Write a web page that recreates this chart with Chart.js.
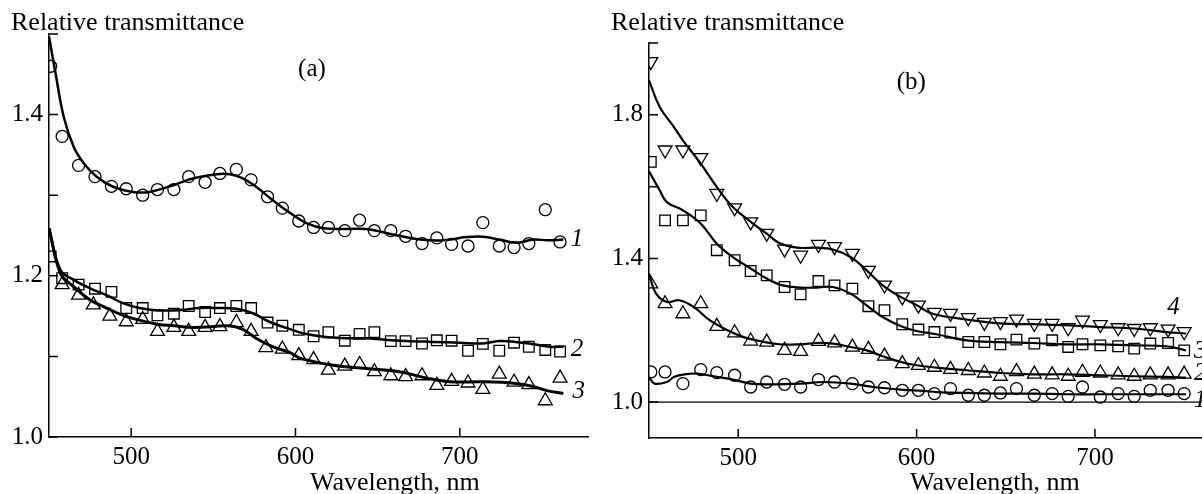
<!DOCTYPE html>
<html>
<head>
<meta charset="utf-8">
<title>Relative transmittance</title>
<script src="https://cdn.jsdelivr.net/npm/chart.js@4.4.0/dist/chart.umd.min.js"></script>
<style>
  html, body { margin: 0; padding: 0; background: #fff; }
  #wrap { position: relative; width: 1202px; height: 494px; overflow: hidden; }
  #chartA { position: absolute; left: 0; top: 0; }
  #chartB { position: absolute; left: 600px; top: 0; }
</style>
</head>
<body>
<div id="wrap">
  <canvas id="chartA" width="600" height="494"></canvas>
  <canvas id="chartB" width="602" height="494"></canvas>
</div>
<script>
const FONT = "'Liberation Serif', 'Times New Roman', serif";

// ticks
const xTicks = [500, 600, 700];
const yTicksA = [1.0, 1.1, 1.2, 1.3, 1.4, 1.5];
const yLabelsA = [1.0, 1.2, 1.4];
const yTicksB = [1.0, 1.4, 1.6, 1.8, 2.0];
const yLabelsB = [1.0, 1.4, 1.8];

// panel (a) - measured points
const wlA = [451, 458, 468, 478, 488, 497, 507, 516, 526, 535, 545, 554, 564, 573, 583, 592, 602, 611, 620, 630, 639, 648, 658, 667, 677, 686, 695, 705, 714, 724, 733, 742, 752, 761];
const circlesA = [1.460, 1.373, 1.337, 1.323, 1.311, 1.308, 1.300, 1.307, 1.307, 1.323, 1.316, 1.327, 1.332, 1.319, 1.298, 1.284, 1.268, 1.260, 1.260, 1.256, 1.269, 1.256, 1.256, 1.249, 1.240, 1.247, 1.239, 1.237, 1.266, 1.237, 1.235, 1.240, 1.282, 1.242];
const squaresA = [1.224, 1.197, 1.189, 1.184, 1.180, 1.160, 1.160, 1.151, 1.153, 1.1625, 1.155, 1.160, 1.1625, 1.160, 1.142, 1.138, 1.133, 1.125, 1.130, 1.1195, 1.128, 1.130, 1.119, 1.119, 1.116, 1.120, 1.1195, 1.107, 1.1155, 1.107, 1.117, 1.112, 1.108, 1.106];
const wlTriA = [458, 468, 477, 487, 497, 507, 516, 526, 535, 545, 554, 564, 573, 582, 592, 602, 611, 620, 630, 639, 648, 658, 667, 677, 686, 695, 705, 714, 724, 733, 742, 752, 761];
const trianglesA = [1.189, 1.176, 1.164, 1.150, 1.143, 1.146, 1.131, 1.136, 1.131, 1.136, 1.137, 1.142, 1.131, 1.111, 1.109, 1.101, 1.096, 1.083, 1.088, 1.090, 1.081, 1.076, 1.075, 1.076, 1.064, 1.069, 1.067, 1.059, 1.078, 1.068, 1.065, 1.045, 1.073];

// panel (a) - fitted curves
const wlFit1A = [450, 454, 459, 465, 471, 479, 489, 501, 511, 526, 538, 552, 560, 568, 576, 586, 597, 607, 617, 630, 643, 660, 676, 690, 704, 714, 724, 734, 745, 753, 763];
const fit1A = [1.497, 1.451, 1.397, 1.360, 1.340, 1.323, 1.3105, 1.304, 1.304, 1.3127, 1.321, 1.326, 1.326, 1.321, 1.3105, 1.294, 1.2775, 1.265, 1.259, 1.258, 1.258, 1.251, 1.245, 1.244, 1.248, 1.2485, 1.245, 1.241, 1.245, 1.244, 1.245];
const wlFit2A = [450, 457, 465, 475, 485, 495, 505, 516, 530, 542, 554, 564, 574, 584, 595, 605, 617, 633, 643, 653, 664, 684, 700, 714, 724, 734, 744, 755, 763];
const fit2A = [1.259, 1.207, 1.195, 1.1845, 1.176, 1.166, 1.160, 1.157, 1.1575, 1.160, 1.160, 1.159, 1.1535, 1.143, 1.135, 1.1285, 1.1245, 1.1225, 1.1225, 1.121, 1.1195, 1.118, 1.117, 1.116, 1.119, 1.118, 1.1155, 1.112, 1.112];
const wlFit3A = [450, 457, 465, 475, 485, 495, 505, 516, 526, 538, 550, 560, 568, 576, 586, 597, 603, 623, 643, 663, 680, 694, 714, 734, 744, 753, 763];
const fit3A = [1.259, 1.203, 1.1865, 1.170, 1.160, 1.151, 1.145, 1.140, 1.138, 1.136, 1.137, 1.138, 1.1335, 1.1225, 1.112, 1.1045, 1.0975, 1.089, 1.085, 1.081, 1.073, 1.0685, 1.0685, 1.0665, 1.063, 1.0575, 1.054];

// panel (b) - measured points
const wlB = [451, 459, 469, 479, 488, 498, 507, 516, 526, 535, 545, 554, 564, 573, 582, 592, 601, 610, 619, 629, 638, 647, 656, 666, 676, 685, 693, 703, 713, 722, 731, 741, 750];
const circlesB = [1.084, 1.084, 1.0515, 1.0905, 1.082, 1.0747, 1.042, 1.056, 1.0496, 1.042, 1.0627, 1.056, 1.0515, 1.042, 1.040, 1.0329, 1.0329, 1.0237, 1.0376, 1.019, 1.019, 1.0254, 1.0376, 1.019, 1.0237, 1.016, 1.042, 1.0142, 1.0237, 1.016, 1.0329, 1.0329, 1.0237];
const trianglesB = [1.329, 1.274, 1.246, 1.274, 1.211, 1.193, 1.170, 1.167, 1.144, 1.141, 1.169, 1.165, 1.153, 1.147, 1.128, 1.107, 1.102, 1.097, 1.091, 1.088, 1.081, 1.072, 1.085, 1.078, 1.076, 1.072, 1.083, 1.081, 1.076, 1.072, 1.076, 1.076, 1.078];
const squaresB = [1.669, 1.506, 1.506, 1.520, 1.423, 1.395, 1.365, 1.353, 1.3205, 1.300, 1.337, 1.325, 1.316, 1.267, 1.2557, 1.2167, 1.202, 1.195, 1.1936, 1.1674, 1.1674, 1.161, 1.174, 1.163, 1.172, 1.1535, 1.161, 1.158, 1.1555, 1.149, 1.163, 1.1645, 1.144];
const invTrianglesB = [1.948, 1.702, 1.702, 1.681, 1.581, 1.541, 1.502, 1.470, 1.426, 1.409, 1.439, 1.433, 1.414, 1.367, 1.326, 1.293, 1.270, 1.250, 1.247, 1.235, 1.222, 1.224, 1.231, 1.219, 1.219, 1.207, 1.228, 1.216, 1.207, 1.205, 1.207, 1.203, 1.196];

// panel (b) - fitted curves
const wlFit1B = [450, 453, 460, 464, 469, 477, 488, 497, 507, 520, 535, 548, 563, 576, 591, 604, 611, 628, 647, 665, 684, 703, 722, 740, 751];
const fit1B = [1.070, 1.0515, 1.056, 1.070, 1.0766, 1.0794, 1.070, 1.0627, 1.0515, 1.0496, 1.0515, 1.056, 1.0515, 1.042, 1.0348, 1.031, 1.028, 1.0254, 1.0237, 1.0237, 1.0218, 1.0218, 1.0218, 1.0218, 1.0218];
const wlFit2B = [450, 454, 460, 467, 475, 484, 494, 503, 512, 523, 535, 544, 553, 563, 572, 581, 591, 600, 611, 628, 647, 665, 684, 703, 722, 740, 751];
const fit2B = [1.358, 1.302, 1.279, 1.2836, 1.265, 1.228, 1.200, 1.181, 1.170, 1.161, 1.161, 1.1646, 1.163, 1.1535, 1.144, 1.1276, 1.112, 1.1025, 1.096, 1.0886, 1.081, 1.0774, 1.0774, 1.0747, 1.072, 1.070, 1.068];
const wlFit3B = [450, 456, 460, 469, 479, 488, 497, 507, 516, 525, 535, 544, 553, 563, 572, 581, 591, 600, 611, 628, 647, 665, 684, 703, 722, 740, 751];
const fit3B = [1.643, 1.590, 1.557, 1.534, 1.497, 1.441, 1.404, 1.372, 1.344, 1.325, 1.319, 1.319, 1.3206, 1.302, 1.2696, 1.237, 1.212, 1.198, 1.189, 1.172, 1.167, 1.1645, 1.161, 1.161, 1.158, 1.1555, 1.144];
const wlFit4B = [450, 456, 464, 469, 479, 488, 497, 507, 516, 523, 533, 544, 553, 563, 572, 581, 591, 600, 609, 628, 647, 665, 684, 703, 722, 740, 751];
const fit4B = [1.896, 1.822, 1.766, 1.729, 1.664, 1.599, 1.543, 1.502, 1.469, 1.443, 1.430, 1.430, 1.425, 1.404, 1.367, 1.325, 1.293, 1.270, 1.246, 1.230, 1.219, 1.217, 1.214, 1.209, 1.205, 1.195, 1.191];

const unityX = [450, 760];
const unityY = [1.0, 1.0];

const pts = (xs, ys) => xs.map((x, i) => ({ x: x, y: ys[i] }));
const edgeClip = { left: 0, top: 12, right: 12, bottom: 12 };

const markers = (xs, ys, style, radius, rotation) => ({
  data: pts(xs, ys),
  showLine: false,
  pointStyle: style,
  pointRadius: radius,
  pointRotation: rotation || 0,
  pointBorderWidth: 1.3,
  pointBorderColor: '#000',
  pointBackgroundColor: 'rgba(0,0,0,0)',
  clip: edgeClip,
});

const fitLine = (xs, ys, width, tension) => ({
  data: pts(xs, ys),
  showLine: true,
  pointRadius: 0,
  borderColor: '#000',
  borderWidth: width,
  tension: tension === undefined ? 0.4 : tension,
  clip: edgeClip,
});

// ticks pointing into the plot area
const inwardTicks = {
  id: 'inwardTicks',
  afterDatasetsDraw(chart) {
    const { ctx, chartArea: area, scales: { x, y } } = chart;
    ctx.save();
    ctx.strokeStyle = '#000';
    ctx.lineWidth = 1.5;
    ctx.beginPath();
    x.ticks.forEach(t => {
      const px = x.getPixelForValue(t.value);
      ctx.moveTo(px, area.bottom);
      ctx.lineTo(px, area.bottom - 9);
    });
    y.ticks.forEach(t => {
      const py = y.getPixelForValue(t.value);
      ctx.moveTo(area.left, py);
      ctx.lineTo(area.left + 9, py);
    });
    ctx.stroke();
    ctx.restore();
  }
};

// axis titles, panel letter and curve numbers
const panelText = {
  id: 'panelText',
  afterDraw(chart, args, o) {
    const { ctx, scales: { x, y } } = chart;
    ctx.save();
    ctx.fillStyle = '#000';
    ctx.font = '26px ' + FONT;
    ctx.textAlign = 'left';
    ctx.textBaseline = 'alphabetic';
    ctx.fillText('Relative transmittance', 11, 29.5);
    ctx.fillText('Wavelength, nm', 310, 490);
    ctx.font = '25px ' + FONT;
    ctx.textAlign = 'center';
    ctx.textBaseline = 'middle';
    ctx.fillText(o.letter.text, x.getPixelForValue(o.letter.x), y.getPixelForValue(o.letter.y));
    ctx.font = 'italic 25px ' + FONT;
    o.curves.forEach(c => {
      ctx.textAlign = c.align || 'left';
      ctx.fillText(c.text, x.getPixelForValue(c.x), y.getPixelForValue(c.y));
    });
    ctx.restore();
  }
};

function buildOptions(p) {
  const tickFont = { family: FONT, size: 25 };
  return {
    responsive: false,
    animation: false,
    events: [],
    layout: { autoPadding: false, padding: { left: 0, top: p.top, right: p.right, bottom: 0 } },
    plugins: {
      legend: { display: false },
      tooltip: { enabled: false },
      panelText: p.text,
    },
    scales: {
      x: {
        type: 'linear',
        min: p.xMin,
        max: p.xMax,
        grid: { display: false, drawTicks: false },
        border: { display: true, color: '#000', width: 1.5 },
        ticks: { autoSkip: false, maxRotation: 0, padding: 5, color: '#000', font: tickFont },
        afterBuildTicks: s => { s.ticks = xTicks.map(v => ({ value: v })); },
        afterFit: s => { s.height = p.xAxisHeight; },
      },
      y: {
        type: 'linear',
        min: p.yMin,
        max: p.yMax,
        grid: { display: false, drawTicks: false },
        border: { display: true, color: '#000', width: 1.5 },
        ticks: {
          autoSkip: false,
          padding: 6,
          color: '#000',
          font: tickFont,
          callback: v => p.yLabels.includes(v) ? v.toFixed(1) : '',
        },
        afterBuildTicks: s => { s.ticks = p.yTicks.map(v => ({ value: v })); },
        afterFit: s => { s.width = 49; },
      },
    },
  };
}

new Chart(document.getElementById('chartA'), {
  type: 'scatter',
  data: {
    datasets: [
      fitLine(wlFit1A, fit1A, 2.5),
      fitLine(wlFit2A, fit2A, 2.5),
      fitLine(wlFit3A, fit3A, 3),
      markers(wlA, circlesA, 'circle', 6),
      markers(wlA, squaresA, 'rect', 7.5),
      markers(wlTriA, trianglesA, 'triangle', 8),
    ],
  },
  options: buildOptions({
    top: 34, right: 12, xAxisHeight: 57,
    xMin: 450, xMax: 778, yMin: 1.0, yMax: 1.5,
    yTicks: yTicksA, yLabels: yLabelsA,
    text: {
      letter: { text: '(a)', x: 610, y: 1.456 },
      curves: [
        { text: '1', x: 767.5, y: 1.245 },
        { text: '2', x: 767.5, y: 1.109 },
        { text: '3', x: 768.5, y: 1.057 },
      ],
    },
  }),
  plugins: [inwardTicks, panelText],
});

new Chart(document.getElementById('chartB'), {
  type: 'scatter',
  data: {
    datasets: [
      fitLine(unityX, unityY, 1.3, 0),
      fitLine(wlFit1B, fit1B, 2.2),
      fitLine(wlFit2B, fit2B, 2.2),
      fitLine(wlFit3B, fit3B, 2.2),
      fitLine(wlFit4B, fit4B, 2.2),
      markers(wlB, circlesB, 'circle', 6),
      markers(wlB, trianglesB, 'triangle', 8),
      markers(wlB, squaresB, 'rect', 7.5),
      markers(wlB, invTrianglesB, 'triangle', 8, 180),
    ],
  },
  options: buildOptions({
    top: 43, right: 0, xAxisHeight: 56,
    xMin: 450, xMax: 760, yMin: 0.9, yMax: 2.0,
    yTicks: yTicksB, yLabels: yLabelsB,
    text: {
      letter: { text: '(b)', x: 597, y: 1.89 },
      curves: [
        { text: '4', x: 744, y: 1.263, align: 'center' },
        { text: '3', x: 755.5, y: 1.142 },
        { text: '2', x: 755.5, y: 1.081 },
        { text: '1', x: 755.5, y: 1.006 },
      ],
    },
  }),
  plugins: [inwardTicks, panelText],
});
</script>
</body>
</html>
